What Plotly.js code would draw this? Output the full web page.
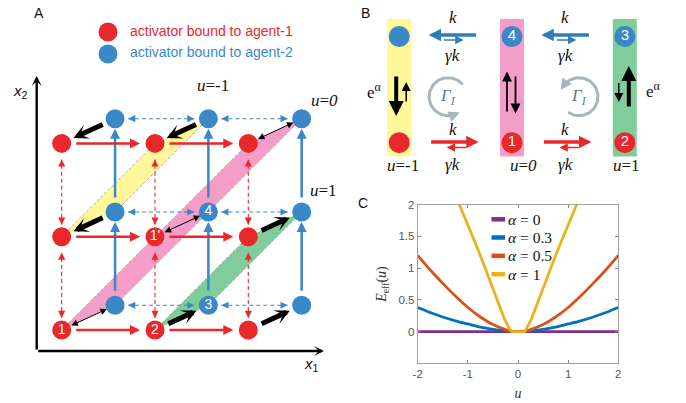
<!DOCTYPE html>
<html>
<head>
<meta charset="utf-8">
<script src="https://cdn.plot.ly/plotly-3.0.1.min.js"></script>
<style>
html,body{margin:0;padding:0;background:#ffffff;}
#chart{width:686px;height:403px;}
</style>
</head>
<body>
<div id="chart"></div>
<script>
// ================= DATA =================
// Panel C: effective energy landscape E_eff(u)
const uGrid    = [-2,-1.75,-1.5,-1.25,-1,-0.75,-0.5,-0.25,-0.12,0,0.12,0.25,0.5,0.75,1,1.25,1.5,1.75,2];
const alphaNames = ['0','0.3','0.5','1'];
const Eeff_a0  = [0,0,0,0,0,0,0,0,0,0,0,0,0,0,0,0,0,0,0];
const Eeff_a03 = [0.38,0.3,0.23,0.17,0.12,0.07,0.035,0.01,0,0,0,0.01,0.035,0.07,0.12,0.17,0.23,0.3,0.38];
const Eeff_a05 = [1.2,0.97,0.76,0.56,0.38,0.23,0.11,0.03,0,0,0,0.03,0.11,0.23,0.38,0.56,0.76,0.97,1.2];
const Eeff_a1  = [null,null,null,2.15,1.68,1.2,0.68,0.17,0,0,0,0.17,0.68,1.2,1.68,2.15,null,null,null];
const xTickVals = [-2,-1,0,1,2];
const xTickText = ['-2','-1','0','1','2'];
const yTickVals = [0,0.5,1,1.5,2];
const yTickText = ['0','0.5','1','1.5','2'];

// Panel A: lattice of states (i = x1 level, j = x2 level)
const stateI = [0,1,2,0,1,2,0,1,2];
const stateJ = [0,0,0,1,1,1,2,2,2];
const agent1Labels = ['1','2','','',"1'",'','','',''];
const agent2Labels = ['','3','','','4','','','',''];
const bandStart = [[0,1],[0,0],[1,0]];
const bandEnd   = [[1,2],[2,2],[2,1]];
const bandU     = ['-1','0','1'];
const legendA   = ['activator bound to agent-1','activator bound to agent-2'];

// Panel B: coarse-grained states
const uStates     = [-1,0,1];
const upperLabels = ['','4','3'];
const lowerLabels = ['','1','2'];
const rateFwd = 'k', rateBwd = '\u03b3k';

// ================= STYLE / GEOMETRY =================
const W = 686, H = 403;
const RED = '#E8282B', BLUE = '#3A88C8', BLUEB = '#2F7DC0';
const bandColors = ['#FFF79A','#F39DC8','#80CC9B'];
const lineColors = ['#7E2F8E','#0072BD','#D95319','#EDB120'];
const SANS  = '"Liberation Sans", Arial, Helvetica, sans-serif';
const SERIF = '"Liberation Serif", "Times New Roman", serif';

// panel A frame
const A0x = 61.7, A0y = 330, AS = 93.3;
const DEPTH = [0.572, 0.265];
const A2px = p => [A0x + p[0]*AS, A0y - p[1]*AS];
const px2A = q => [(q[0]-A0x)/AS, (A0y-q[1])/AS];
// panel B frame
const B0x = 512, B0y = 142.7, BSX = 112.8, BSY = 106.2;
const px2B = q => [(q[0]-B0x)/BSX, (B0y-q[1])/BSY];
const colPx = u => B0x + u*BSX;

const traces = [], shapes = [], anns = [];

function arrow(ax, from, to, o) {
  const xr = ax[0], yr = ax[1];
  return Object.assign({xref:xr, yref:yr, axref:xr, ayref:yr, x:to[0], y:to[1], ax:from[0], ay:from[1],
    text:'', showarrow:true, arrowhead:2, arrowsize:1, arrowwidth:1, arrowcolor:'#000',
    standoff:0, startstandoff:0}, o);
}
function label(px, py, text, font, o) {
  return Object.assign({xref:'paper', yref:'paper', x:px/W, y:1-py/H, text:text, showarrow:false,
    font:font, xanchor:'center', yanchor:'middle'}, o || {});
}
const AX = ['x2','y2'], BX = ['x3','y3'];
const red  = k => [stateI[k], stateJ[k]];
const blue = k => [stateI[k]+DEPTH[0], stateJ[k]+DEPTH[1]];
const findState = (i,j) => stateI.findIndex((v,k)=> v===i && stateJ[k]===j);

// ================= PANEL C =================
const seriesE = [Eeff_a0, Eeff_a03, Eeff_a05, Eeff_a1];
seriesE.forEach((ys,k) => traces.push({type:'scatter', mode:'lines', x:uGrid, y:ys, xaxis:'x', yaxis:'y',
  line:{color:lineColors[k], width:2.8, shape:'spline', smoothing:0.6}, hoverinfo:'skip', showlegend:false}));
// legend (drawn manually for the short MATLAB-style swatches)
const legRows = [219.3, 237.5, 255.8, 274.2];
alphaNames.forEach((nm,k) => {
  shapes.push({type:'line', xref:'paper', yref:'paper', x0:491.5/W, x1:505/W, y0:1-legRows[k]/H, y1:1-legRows[k]/H,
    line:{color:lineColors[k], width:4.5}});
  anns.push(label(505.5, legRows[k], '<i>\u03b1</i> = ' + nm, {family:SERIF, size:15.5, color:'#111'}, {xanchor:'left'}));
});
anns.push(label(363, 203, 'C', {family:SANS, size:14, color:'#111'}));

// ================= PANEL A =================
// bands
bandStart.forEach((s,b) => {
  const e = bandEnd[b];
  const r0 = s, b0 = [s[0]+DEPTH[0], s[1]+DEPTH[1]], b1 = [e[0]+DEPTH[0], e[1]+DEPTH[1]], r1 = e;
  shapes.push({type:'path', xref:'x2', yref:'y2', layer:'below',
    path:`M${r0[0]},${r0[1]} L${b0[0]},${b0[1]} L${b1[0]},${b1[1]} L${r1[0]},${r1[1]} Z`,
    fillcolor:bandColors[b], line:{width:0}});
  [[r0,r1],[b0,b1]].forEach(seg => shapes.push({type:'line', xref:'x2', yref:'y2', layer:'below',
    x0:seg[0][0], y0:seg[0][1], x1:seg[1][0], y1:seg[1][1], line:{color:'#9a9a9a', width:0.8, dash:'3px,2px'}}));
});
// dashed double arrows
function dashedDouble(pa, pb, sA, sB, color) {
  const a = A2px(pa), b = A2px(pb);
  const dx = b[0]-a[0], dy = b[1]-a[1], L = Math.hypot(dx,dy), ux = dx/L, uy = dy/L;
  const a2 = px2A([a[0]+ux*sA, a[1]+uy*sA]), b2 = px2A([b[0]-ux*sB, b[1]-uy*sB]);
  shapes.push({type:'line', xref:'x2', yref:'y2', x0:a2[0], y0:a2[1], x1:b2[0], y1:b2[1],
    line:{color:color, width:1.1, dash:'4px,3px'}});
  anns.push({xref:'x2', yref:'y2', x:b2[0], y:b2[1], ax:-ux*6, ay:-uy*6, text:'', showarrow:true,
    arrowhead:2, arrowsize:1.3, arrowwidth:1.1, arrowcolor:color});
  anns.push({xref:'x2', yref:'y2', x:a2[0], y:a2[1], ax:ux*6, ay:uy*6, text:'', showarrow:true,
    arrowhead:2, arrowsize:1.3, arrowwidth:1.1, arrowcolor:color});
}
stateI.forEach((i,k) => {
  const j = stateJ[k];
  const right = findState(i+1, j), up = findState(i, j+1);
  if (right >= 0) {
    anns.push(arrow(AX, red(k), red(right), {arrowcolor:RED, arrowwidth:2.5, arrowsize:0.8, standoff:15, startstandoff:13}));
    dashedDouble(blue(k), blue(right), 13, 14, BLUE);
  }
  if (up >= 0) {
    anns.push(arrow(AX, blue(k), blue(up), {arrowcolor:BLUE, arrowwidth:2.5, arrowsize:0.8, standoff:10, startstandoff:13}));
    dashedDouble(red(k), red(up), 12, 16, RED);
  }
  const u = i - j;
  if (u < 0) anns.push(arrow(AX, blue(k), red(k), {arrowhead:3, arrowwidth:5, arrowsize:0.5, standoff:13, startstandoff:12}));
  else if (u > 0) anns.push(arrow(AX, red(k), blue(k), {arrowhead:3, arrowwidth:5, arrowsize:0.5, standoff:13, startstandoff:13}));
  else anns.push(arrow(AX, red(k), blue(k), {arrowwidth:1, arrowsize:1.3, standoff:9, startstandoff:9,
    arrowside:'end+start', startarrowhead:2, startarrowsize:1.3}));
});
// nodes
traces.push({type:'scatter', mode:'markers', xaxis:'x2', yaxis:'y2',
  x:stateI.map(i=>i+DEPTH[0]), y:stateJ.map(j=>j+DEPTH[1]),
  marker:{size:19, color:BLUE}, hoverinfo:'skip', showlegend:false});
traces.push({type:'scatter', mode:'markers', xaxis:'x2', yaxis:'y2', x:stateI, y:stateJ,
  marker:{size:19, color:RED}, hoverinfo:'skip', showlegend:false});
// node numbers (only the labelled states)
const lab1 = stateI.map((v,k)=>k).filter(k=>agent1Labels[k] !== '');
const lab2 = stateI.map((v,k)=>k).filter(k=>agent2Labels[k] !== '');
traces.push({type:'scatter', mode:'text', xaxis:'x2', yaxis:'y2',
  x:lab1.map(k=>stateI[k]).concat(lab2.map(k=>stateI[k]+DEPTH[0])),
  y:lab1.map(k=>stateJ[k]).concat(lab2.map(k=>stateJ[k]+DEPTH[1])),
  text:lab1.map(k=>agent1Labels[k]).concat(lab2.map(k=>agent2Labels[k])),
  textposition:'middle center', textfont:{family:SANS, size:14, color:'#fff'}, hoverinfo:'skip', showlegend:false});
// legend of panel A
const legDots = [px2A([108,32]), px2A([108,54])];
traces.push({type:'scatter', mode:'markers', xaxis:'x2', yaxis:'y2', x:legDots.map(p=>p[0]), y:legDots.map(p=>p[1]),
  marker:{size:19, color:[RED,BLUE]}, hoverinfo:'skip', showlegend:false});
anns.push(label(128, 31, legendA[0], {family:SANS, size:14, color:RED}, {xanchor:'left'}));
anns.push(label(128, 52.5, legendA[1], {family:SANS, size:14, color:BLUE}, {xanchor:'left'}));
// axes of panel A
const orig = px2A([36.7,351]);
anns.push(arrow(AX, orig, px2A([324,351]), {arrowhead:3, arrowwidth:2.4, arrowsize:0.7}));
anns.push(arrow(AX, orig, px2A([36.7,76]), {arrowhead:3, arrowwidth:2.4, arrowsize:0.7}));
anns.push(label(20, 92, '<i>x</i><sub>2</sub>', {family:SANS, size:15, color:'#111'}));
anns.push(label(311, 364, '<i>x</i><sub>1</sub>', {family:SANS, size:15, color:'#111'}));
// band u labels
const bandLabelPos = [[212.5,85],[324,100],[323,190]];
bandU.forEach((v,b) => anns.push(label(bandLabelPos[b][0], bandLabelPos[b][1],
  '<i>u</i>=' + (v==='0' ? '<i>0</i>' : v), {family:SERIF, size:17, color:'#111'})));
anns.push(label(39, 13, 'A', {family:SANS, size:14, color:'#111'}));

// ================= PANEL B =================
uStates.forEach((u,c) => {
  const x0 = px2B([colPx(u)-12, 0])[0], x1 = px2B([colPx(u)+12, 0])[0];
  shapes.push({type:'rect', xref:'x3', yref:'y3', layer:'below', x0:x0, x1:x1,
    y0:px2B([0,156.5])[1], y1:px2B([0,19])[1], fillcolor:bandColors[c], line:{width:0}});
});
traces.push({type:'scatter', mode:'markers', xaxis:'x3', yaxis:'y3', x:uStates, y:uStates.map(()=>1),
  marker:{size:21, color:BLUE}, hoverinfo:'skip', showlegend:false});
traces.push({type:'scatter', mode:'markers', xaxis:'x3', yaxis:'y3', x:uStates, y:uStates.map(()=>0),
  marker:{size:21, color:RED}, hoverinfo:'skip', showlegend:false});
const bl1 = uStates.map((v,c)=>c).filter(c=>upperLabels[c] !== '');
const bl0 = uStates.map((v,c)=>c).filter(c=>lowerLabels[c] !== '');
traces.push({type:'scatter', mode:'text', xaxis:'x3', yaxis:'y3',
  x:bl1.map(c=>uStates[c]).concat(bl0.map(c=>uStates[c])),
  y:bl1.map(()=>1).concat(bl0.map(()=>0)),
  text:bl1.map(c=>upperLabels[c]).concat(bl0.map(c=>lowerLabels[c])),
  textposition:'middle center', textfont:{family:SANS, size:15, color:'#fff'}, hoverinfo:'skip', showlegend:false});
// horizontal transitions between neighbouring u
for (let c = 0; c < uStates.length-1; c++) {
  const mid = (colPx(uStates[c]) + colPx(uStates[c+1]))/2;
  anns.push(arrow(BX, px2B([mid+22,35]), px2B([mid-27,35]), {arrowcolor:BLUEB, arrowwidth:3.3, arrowsize:0.75}));
  anns.push(arrow(BX, px2B([mid-13,40]), px2B([mid+8,40]), {arrowcolor:BLUEB, arrowwidth:1.4, arrowsize:1.2}));
  anns.push(arrow(BX, px2B([mid-26,142]), px2B([mid+23,142]), {arrowcolor:RED, arrowwidth:3.3, arrowsize:0.75}));
  anns.push(arrow(BX, px2B([mid+12,147.5]), px2B([mid-9,147.5]), {arrowcolor:RED, arrowwidth:1.4, arrowsize:1.2}));
  anns.push(label(mid-3, 17.5, '<i>'+rateFwd+'</i>', {family:SERIF, size:17, color:'#111'}));
  anns.push(label(mid-3, 55, '<i>'+rateBwd+'</i>', {family:SERIF, size:17, color:'#111'}));
  anns.push(label(mid-3, 130, '<i>'+rateFwd+'</i>', {family:SERIF, size:17, color:'#111'}));
  anns.push(label(mid-3, 164, '<i>'+rateBwd+'</i>', {family:SERIF, size:17, color:'#111'}));
  // cycle arrows Gamma_I
  const first = c === 0;
  const cx = first ? mid-7.5 : mid+10.6, cy = 96.7, r = 19;
  const a0 = first ? 40 : 235, a1 = first ? 292 : 505;
  const xs = [], ys = [];
  for (let t = 0; t <= 60; t++) {
    const a = (a0 + (a1-a0)*t/60)*Math.PI/180;
    const p = px2B([cx + r*Math.cos(a), cy - r*Math.sin(a)]);
    xs.push(p[0]); ys.push(p[1]);
  }
  traces.push({type:'scatter', mode:'lines', xaxis:'x3', yaxis:'y3', x:xs, y:ys,
    line:{color:'#A9B5BC', width:3}, hoverinfo:'skip', showlegend:false});
  const ae = a1*Math.PI/180, tx = -Math.sin(ae), ty = -Math.cos(ae);
  const tip = px2B([cx + r*Math.cos(ae) + tx*5, cy - r*Math.sin(ae) + ty*5]);
  anns.push({xref:'x3', yref:'y3', x:tip[0], y:tip[1], ax:-tx*8, ay:-ty*8, text:'', showarrow:true,
    arrowhead:2, arrowsize:0.75, arrowwidth:3, arrowcolor:'#A9B5BC'});
  anns.push(label(cx, cy, '<i>\u0393</i><sub><i>I</i></sub>', {family:SERIF, size:17, color:'#4E7F8C'}));
}
// vertical transitions inside each u (e^alpha bias)
uStates.forEach((u,c) => {
  const cp = colPx(u);
  if (u < 0) {
    anns.push(arrow(BX, px2B([cp-3,75]), px2B([cp-3,116]), {arrowwidth:4, arrowsize:0.75}));
    anns.push(arrow(BX, px2B([cp+7,103]), px2B([cp+7,82]), {arrowwidth:1.5, arrowsize:1.2}));
    anns.push(label(cp-25, 91.5, 'e<sup>\u03b1</sup>', {family:SERIF, size:17, color:'#111'}));
  } else if (u > 0) {
    anns.push(arrow(BX, px2B([cp+4,108]), px2B([cp+4,66]), {arrowwidth:4, arrowsize:0.75}));
    anns.push(arrow(BX, px2B([cp-6,81.5]), px2B([cp-6,102]), {arrowwidth:1.5, arrowsize:1.2}));
    anns.push(label(cp+28, 90, 'e<sup>\u03b1</sup>', {family:SERIF, size:17, color:'#111'}));
  } else {
    anns.push(arrow(BX, px2B([cp-5,113]), px2B([cp-5,71.5]), {arrowwidth:1.8, arrowsize:1.1}));
    anns.push(arrow(BX, px2B([cp+3.5,75]), px2B([cp+3.5,113.5]), {arrowwidth:1.8, arrowsize:1.1}));
  }
  const off = u < 0 ? 4 : (u > 0 ? 2 : 11);
  anns.push(label(cp+off, 165.5, '<i>u</i>=' + (u===0 ? '<i>0</i>' : String(u)), {family:SERIF, size:17, color:'#111'}));
});
anns.push(label(365, 13, 'B', {family:SANS, size:14, color:'#111'}));

// ================= LAYOUT =================
const layout = {
  width:W, height:H, margin:{l:0, r:0, t:0, b:0, pad:0},
  paper_bgcolor:'#ffffff', plot_bgcolor:'rgba(0,0,0,0)', showlegend:false,
  xaxis:{domain:[417.7/W, 618.3/W], range:[-2,2], anchor:'y', tickmode:'array', tickvals:xTickVals, ticktext:xTickText,
    ticks:'inside', ticklen:3, tickwidth:1, tickcolor:'#888', showline:true, linecolor:'#a0a0a0', linewidth:1,
    mirror:'allticks', showgrid:false, zeroline:false, tickfont:{family:SANS, size:11.5, color:'#555'},
    title:{text:'<i>u</i>', font:{family:SERIF, size:14, color:'#333'}, standoff:9}, fixedrange:true},
  yaxis:{domain:[1-363.3/H, 1-204.7/H], range:[-0.5,2], anchor:'x', tickmode:'array', tickvals:yTickVals, ticktext:yTickText,
    ticks:'inside', ticklen:3, tickwidth:1, tickcolor:'#888', showline:true, linecolor:'#a0a0a0', linewidth:1,
    mirror:'allticks', showgrid:false, zeroline:false, tickfont:{family:SANS, size:11.5, color:'#555'},
    title:{text:'<i>E</i><sub>eff</sub>(<i>u</i>)', font:{family:SERIF, size:14, color:'#333'}, standoff:8}, fixedrange:true},
  xaxis2:{domain:[0,1], range:[px2A([0,0])[0], px2A([W,0])[0]], anchor:'y2', visible:false, fixedrange:true},
  yaxis2:{domain:[0,1], range:[px2A([0,H])[1], px2A([0,0])[1]], anchor:'x2', visible:false, fixedrange:true},
  xaxis3:{domain:[0,1], range:[px2B([0,0])[0], px2B([W,0])[0]], anchor:'y3', visible:false, fixedrange:true},
  yaxis3:{domain:[0,1], range:[px2B([0,H])[1], px2B([0,0])[1]], anchor:'x3', visible:false, fixedrange:true},
  shapes:shapes, annotations:anns
};
Plotly.newPlot('chart', traces, layout, {staticPlot:true, displayModeBar:false, responsive:false});
</script>
</body>
</html>
